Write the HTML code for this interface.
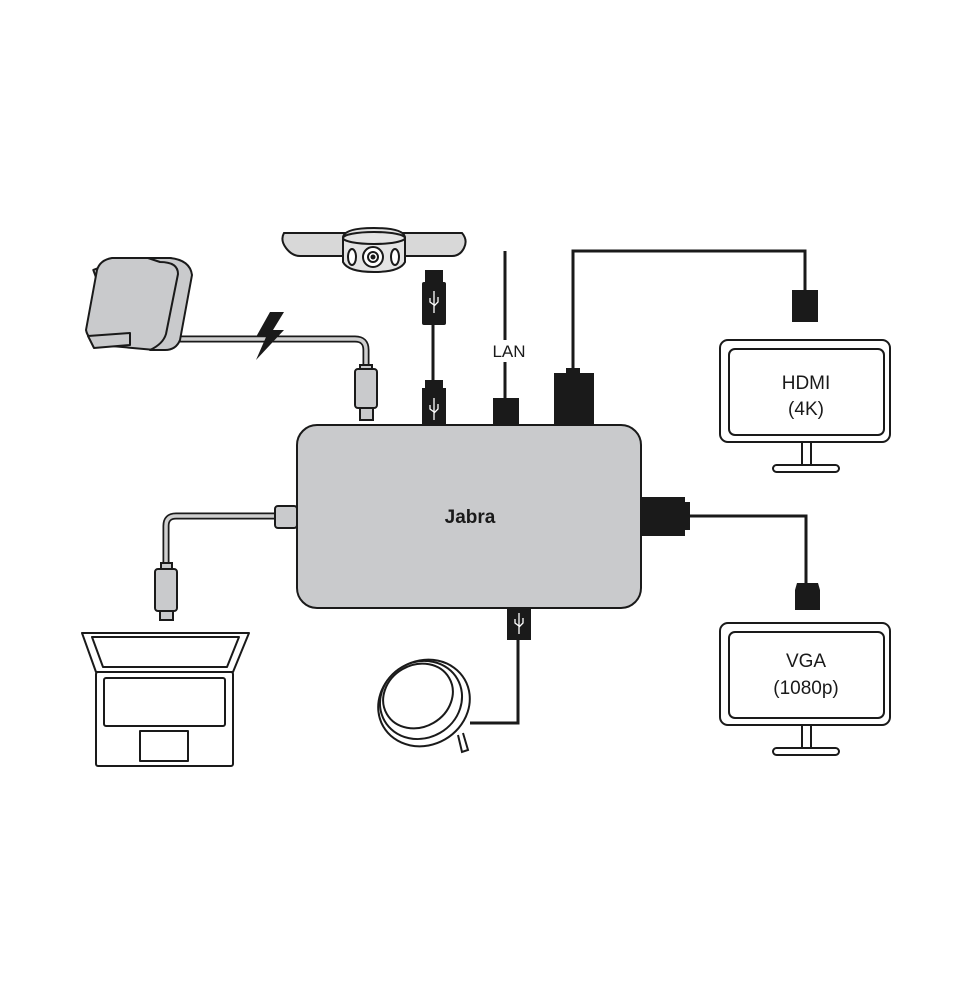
<!DOCTYPE html>
<html><head><meta charset="utf-8"><style>html,body{margin:0;padding:0;background:#fff}svg{display:block}</style></head><body>
<svg width="973" height="1000" viewBox="0 0 973 1000" xmlns="http://www.w3.org/2000/svg">
<rect width="973" height="1000" fill="#fff"/>
<g stroke="#1a1a1a" stroke-width="2" fill="none">
<path d="M118,339 L355,339 Q366,339 366,350 L366,368" stroke="#1a1a1a" stroke-width="7"/>
<path d="M118,339 L355,339 Q366,339 366,350 L366,368" stroke="#cfcfcf" stroke-width="3.5"/>
<path d="M166,568 L166,526 Q166,516 176,516 L278,516" stroke="#1a1a1a" stroke-width="7"/>
<path d="M166,568 L166,526 Q166,516 176,516 L278,516" stroke="#cfcfcf" stroke-width="3.5"/>
<line x1="433" y1="322" x2="433" y2="382" stroke-width="3"/>
<line x1="505" y1="251" x2="505" y2="340" stroke-width="3"/>
<line x1="505" y1="362" x2="505" y2="400" stroke-width="3"/>
<path d="M573,370 L573,251 L805,251 L805,292" stroke-width="3"/>
<path d="M690,516 L806,516 L806,585" stroke-width="3"/>
<path d="M518,638 L518,723 L470,723" stroke-width="3"/>
</g>
<g stroke="#1a1a1a" stroke-width="2" fill="#c9cacc" stroke-linejoin="round">
<rect x="94" y="268" width="10" height="7" fill="#c9cacc" transform="rotate(-20 99 271)"/>
<path d="M100,345 Q88,340 86,330 L97,270 Q100,260 112,258 L170,258 Q185,260 182,274 L170,340 Q166,350 155,350 Z"/>
<path d="M148,258 L170,258 Q190,260 192,275 L180,340 Q176,350 165,350 L150,350 Q163,344 166,334 L178,274 Q178,262 160,262 Z"/>
<path d="M88,336 L130,333 L130,345 L94,348 Z"/>
</g>
<path d="M270,312 L256,337 L266,337 L256,360 L284,330 L273,330 L284,312 Z" fill="#1a1a1a"/>
<g stroke="#1a1a1a" stroke-width="2" fill="#d8d8d8">
<path d="M284,233 Q280,240 286,248 Q292,256 300,256 L452,256 Q460,256 464,248 Q468,240 462,233 Z" />
<path d="M343,237 Q345,228 374,228 Q403,228 405,237 L405,262 Q400,272 374,272 Q348,272 343,262 Z" fill="#e4e4e4"/>
<ellipse cx="374" cy="238" rx="31" ry="6" fill="#e4e4e4"/>
<circle cx="373" cy="257" r="10" fill="#fff"/>
<circle cx="373" cy="257" r="5" fill="#fff"/>
<ellipse cx="352" cy="257" rx="4" ry="8" fill="#fff"/>
<ellipse cx="395" cy="257" rx="4" ry="8" fill="#fff"/>
</g>
<circle cx="373" cy="257" r="2.5" fill="#1a1a1a"/>
<g fill="#1a1a1a"><rect x="425" y="270" width="18" height="12"/><rect x="422" y="282" width="24" height="43" rx="2"/>
<rect x="425" y="380" width="18" height="10"/><rect x="422" y="388" width="24" height="38"/></g>
<rect x="297" y="425" width="344" height="183" rx="20" fill="#c9cacc" stroke="#1a1a1a" stroke-width="2"/>
<text x="470" y="523" font-family="Liberation Sans, sans-serif" font-size="19" font-weight="bold" text-anchor="middle" fill="#1a1a1a">Jabra</text>
<g stroke="#1a1a1a" stroke-width="2" fill="#c9cacc">
<rect x="360" y="365" width="12" height="5"/>
<rect x="355" y="369" width="22" height="39" rx="3"/>
<rect x="360" y="408" width="13" height="12"/>
<rect x="161" y="563" width="11" height="6"/>
<rect x="155" y="569" width="22" height="42" rx="3"/>
<rect x="160" y="611" width="13" height="9"/>
<rect x="275" y="506" width="22" height="22" rx="3"/>
</g>
<g fill="#1a1a1a">
<rect x="493" y="398" width="26" height="27"/>
<rect x="566" y="368" width="14" height="6"/>
<rect x="554" y="373" width="40" height="52"/>
<rect x="792" y="290" width="26" height="32"/>
<path d="M641,497 L685,497 L685,502 L690,502 L690,530 L685,530 L685,536 L641,536 Z"/>
<path d="M795,590 L797,583 L818,583 L820,590 L820,610 L795,610 Z"/>
<rect x="507" y="608" width="24" height="32"/>
</g>
<g stroke="#fff" stroke-width="1.3" fill="none">
<path d="M434,291 L434,313 M430,298 L430,302 L434,305 M438,297 L438,302 L434,306"/>
<path d="M434,398 L434,420 M430,405 L430,409 L434,412 M438,404 L438,409 L434,413"/>
<path d="M519,613 L519,634 M515,619 L515,623 L519,626 M523,618 L523,623 L519,627"/>
</g>
<text x="509" y="357" font-family="Liberation Sans, sans-serif" font-size="17" fill="#1a1a1a" text-anchor="middle">LAN</text>
<g stroke="#1a1a1a" stroke-width="2" fill="#fff">
<rect x="720" y="340" width="170" height="102" rx="8"/>
<rect x="729" y="349" width="155" height="86" rx="6"/>
<path d="M802,442 L802,465 M811,442 L811,465"/>
<rect x="773" y="465" width="66" height="7" rx="3.5"/>
<rect x="720" y="623" width="170" height="102" rx="8"/>
<rect x="729" y="632" width="155" height="86" rx="6"/>
<path d="M802,725 L802,748 M811,725 L811,748"/>
<rect x="773" y="748" width="66" height="7" rx="3.5"/>
</g>
<g font-family="Liberation Sans, sans-serif" font-size="19" fill="#1a1a1a" text-anchor="middle">
<text x="806" y="389">HDMI</text><text x="806" y="415">(4K)</text>
<text x="806" y="667">VGA</text><text x="806" y="694">(1080p)</text>
</g>
<g stroke="#1a1a1a" stroke-width="2" fill="#fff" stroke-linejoin="round">
<path d="M82,633 L249,633 L233,672 L96,672 Z"/>
<path d="M92,637 L239,637 L227,667 L103,667 Z"/>
<rect x="96" y="672" width="137" height="94" rx="2"/>
<rect x="104" y="678" width="121" height="48" rx="2"/>
<rect x="140" y="731" width="48" height="30"/>
</g>
<g stroke="#1a1a1a" stroke-width="2" fill="#fff">
<path d="M458,735 L462,752 L468,750 L463,733" />
<ellipse cx="424" cy="703" rx="47" ry="42" transform="rotate(-30 424 703)"/>
<ellipse cx="421" cy="700" rx="42" ry="38" transform="rotate(-30 421 700)"/>
<ellipse cx="418" cy="696" rx="36" ry="31" transform="rotate(-30 418 696)"/>
</g>
</svg>
</body></html>
